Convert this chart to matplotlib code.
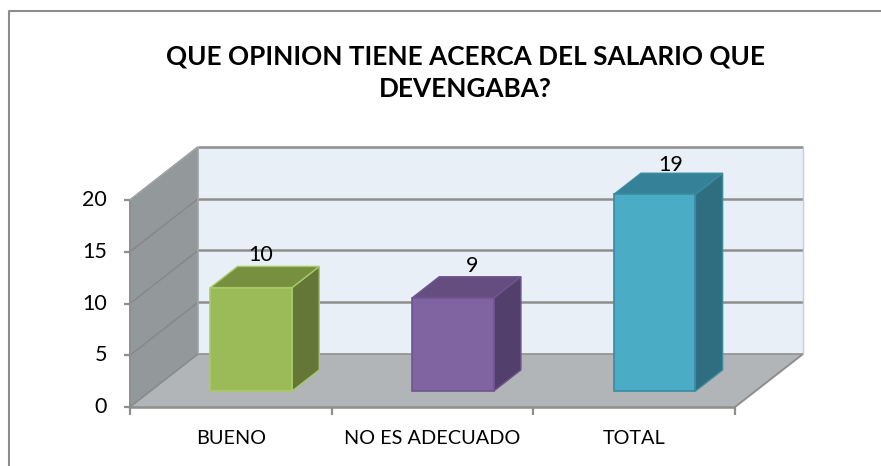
import matplotlib
matplotlib.use('Agg')
import matplotlib.pyplot as plt
from matplotlib.patches import Polygon

plt.rcParams['font.family'] = ['Lato', 'DejaVu Sans']

categories = ['BUENO', 'NO ES ADECUADO', 'TOTAL']
values = [10, 9, 19]
y_ticks = [0, 5, 10, 15, 20]
title = 'QUE OPINION TIENE ACERCA DEL SALARIO QUE\nDEVENGABA?'

front_colors = ['#9BBB59', '#8064A2', '#4BACC6']
top_colors = ['#76903F', '#654D80', '#358298']
side_colors = ['#647736', '#533F6B', '#2F6E80']
edge_colors = ['#A9C96A', '#6F5590', '#3A8AA0']

# nudges of the value labels, in points
label_dx = [-13, -6, -8]
label_dy = [8, 8, 6]

W, H = 881, 466
fig = plt.figure(figsize=(W / 100, H / 100), dpi=100)
ax = fig.add_axes([130 / W, 1 - 407 / H, 605 / W, 207 / H])
ax.set_xlim(0, 3)
ax.set_ylim(0, 20)
ax.axis('off')

# oblique depth offset, in data units
DX = 68 / (605 / 3)
DY = 53 / (207 / 20)


def proj(x, v, d):
    return (x + d * DX, v + d * DY)


def poly(points, color, edge='none', lw=0, z=1):
    ax.add_patch(Polygon(points, closed=True, facecolor=color, edgecolor=edge,
                         linewidth=lw, clip_on=False, zorder=z))


def line(p1, p2, color='#8E8E8E', lw=1.6, z=2):
    ax.plot([p1[0], p2[0]], [p1[1], p2[1]], color=color, lw=lw, clip_on=False,
            zorder=z, solid_capstyle='butt')


# walls and floor
poly([proj(0, 0, 1), proj(3, 0, 1), proj(3, 20, 1), proj(0, 20, 1)], '#E9EFF7')
poly([proj(0, 0, 0), proj(0, 0, 1), proj(0, 20, 1), proj(0, 20, 0)], '#93989A')
poly([proj(0, 0, 0), proj(3, 0, 0), proj(3, 0, 1), proj(0, 0, 1)], '#B1B5B8')

for t in y_ticks:
    line(proj(0, t, 0), proj(0, t, 1), '#85898B', 1.1)
    if t > 0:
        line(proj(0, t, 1), proj(3, t, 1), '#8E8E8E', 1.8)
    line((-0.03, t), (0, t), '#8E8E8E', 1.6)
    ax.text(-0.115, t, str(t), ha='right', va='center', fontsize=15.5, color='black')

line(proj(0, 0, 1), proj(3, 0, 1), '#909090', 1.2)
line(proj(3, 0, 1), proj(3, 20, 1), '#C8CDD2', 1)
line(proj(0, 0, 1), proj(0, 20, 1), '#A0A4A6', 1.2)
line(proj(0, 0, 0), proj(3, 0, 0), '#8E8E8E', 1.8)
line(proj(3, 0, 0), proj(3, 0, 1), '#8E8E8E', 1.4)
line(proj(0, 0, 0), proj(0, 20, 0), '#8E8E8E', 1.4)
line(proj(0, 20, 0), proj(0, 20, 1), '#A0A4A6', 1.2)

for i in range(4):
    line((i, 0), (i, -0.75), '#8E8E8E', 1.6)

# bars
bar_w = 0.405
d0, d1 = 0.30, 0.70
for i, v in enumerate(values):
    x0 = i + 0.5 - bar_w / 2
    x1 = i + 0.5 + bar_w / 2
    e = edge_colors[i]
    poly([proj(x0, 0, d0), proj(x1, 0, d0), proj(x1, v, d0), proj(x0, v, d0)],
         front_colors[i], e, 1.2, 4)
    poly([proj(x1, 0, d0), proj(x1, 0, d1), proj(x1, v, d1), proj(x1, v, d0)],
         side_colors[i], e, 1.0, 3)
    poly([proj(x0, v, d0), proj(x1, v, d0), proj(x1, v, d1), proj(x0, v, d1)],
         top_colors[i], e, 1.0, 3)
    lx, ly = proj(i + 0.5, v, d1)
    ax.annotate(str(v), (lx, ly), xytext=(label_dx[i], label_dy[i]),
                textcoords='offset points', ha='center', va='center',
                fontsize=15.5, color='black', zorder=6, annotation_clip=False)

for i, c in enumerate(categories):
    ax.annotate(c, (i + 0.5, 0), xytext=(0, -22.5), textcoords='offset points',
                ha='center', va='center', fontsize=14.3, color='black',
                annotation_clip=False)

fig.text(465 / W, 1 - 73 / H, title, ha='center', va='center', fontsize=18.8,
         fontweight='bold', color='black', linespacing=1.4)

# chart frame
fig.add_artist(plt.Line2D([9 / W, 9 / W, 1], [0, 1 - 11 / H, 1 - 11 / H],
                          color='#8C8C8C', lw=1.5))

fig.savefig('out.png', dpi=100)
